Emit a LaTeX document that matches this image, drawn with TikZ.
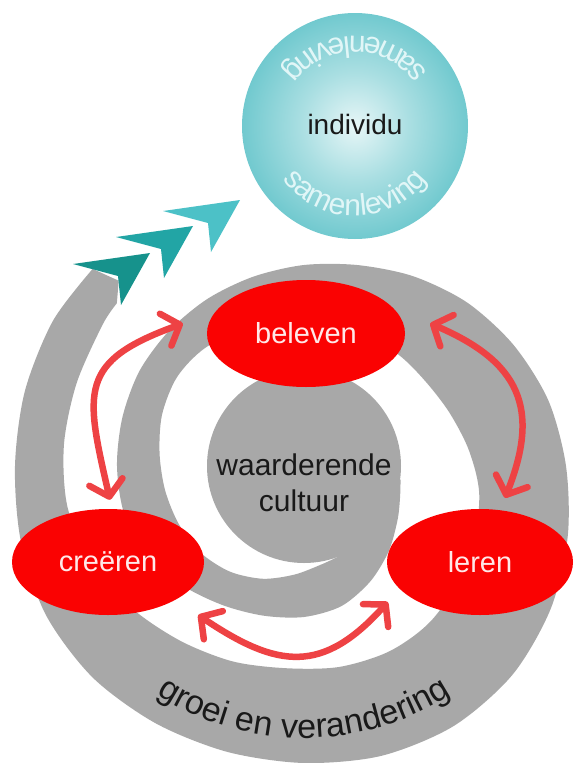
\documentclass[tikz,border=0pt]{standalone}
\usepackage{fontspec}
\setmainfont{Liberation Sans}
\usetikzlibrary{arrows.meta, shapes.geometric, decorations.text}

\definecolor{bandgray}{RGB}{168,168,168}
\definecolor{stagered}{RGB}{250,2,2}
\definecolor{stagetext}{RGB}{255,232,232}
\definecolor{linkred}{RGB}{238,66,68}
\definecolor{dartA}{RGB}{22,146,140}
\definecolor{dartB}{RGB}{34,165,165}
\definecolor{dartC}{RGB}{76,193,199}
\definecolor{glowedge}{RGB}{52,178,186}
\definecolor{glowtext}{RGB}{225,246,247}
\definecolor{inktext}{RGB}{25,25,25}

\pgfdeclareradialshading{tealglow}{\pgfpoint{0bp}{0bp}}{%
  color(0bp)=(white!88!glowedge); color(12bp)=(white!58!glowedge);
  color(26bp)=(white!28!glowedge); color(40bp)=(white!8!glowedge);
  color(50bp)=(glowedge)}

\begin{document}
\begin{tikzpicture}[
  x=1pt, y=-1pt,
  band/.style={fill=bandgray},
  stage/.style={ellipse, fill=stagered, inner sep=0pt, text=stagetext,
                font=\fontsize{29}{29}\selectfont},
  link/.style={draw=linkred, line width=6.5pt, line cap=round,
               >={Straight Barb[length=15pt, width=34pt, round]}, <->},
  ink/.style={text=inktext}
]
  \fill[white] (0,0) rectangle (574,763);
  \useasboundingbox (0,0) rectangle (574,763);

  % individu / samenleving
  \shade[shading=tealglow] (355,126) circle[radius=113];
  \node[ink, font=\fontsize{28}{28}\selectfont] (individu) at (355,124) {individu};
  \path[decorate, decoration={text along path, text align=center, text color=glowtext,
        text={|\fontsize{30}{30}\selectfont|samenleving}}]
    (355,126) ++(150:90) arc[start angle=150, end angle=30, radius=90];
  \path[decorate, decoration={text along path, text align=center, text color=glowtext,
        text={|\fontsize{30}{30}\selectfont|samenleving}}]
    (355,126) ++(-30:90) arc[start angle=-30, end angle=-150, radius=90];

  % spiral (polar around the disk centre)
  \fill[band, shift={(304,466)}] plot[smooth] coordinates {(583:289) (570:290)
      (555:289) (540:289) (525:293) (510:298) (495:299) (480:297) (465:296) (450:297)
      (435:300) (420:300) (405:295) (390:285) (375:273) (360:262) (345:253) (330:242)
      (315:231) (300:219) (285:208) (270:201) (255:196) (240:193) (225:191) (210:190)
      (195:188) (180:187) (165:186) (150:180) (135:170) (120:161) (105:155) (90:151)
      (75:145) (60:133) (45:120) (30:108) (18:101) (8:97.5)}
    -- plot[smooth] coordinates {(70:97) (80:100) (95:109) (110:120) (125:129)
      (140:135) (155:138) (170:141) (185:145) (200:151) (215:155) (230:154) (250:151)
      (270:149) (290:147) (310:146) (325:148) (340:155) (355:166) (370:178) (390:191)
      (410:200) (425:204) (440:204) (455:203) (470:208) (485:214) (500:223) (515:233)
      (530:240) (545:241) (560:242) (575:246) (581:248)}
    -- (585:262) -- cycle;
  \fill[band] (304,466) circle[radius=97];
  \node[ink, align=center, font=\fontsize{30}{36}\selectfont] (cultuur) at (304,483)
    {waarderende\\cultuur};
  \path[decorate, decoration={text along path, text align=center, text color=inktext,
        text={|\fontsize{34}{34}\selectfont|groei en verandering}}]
    (304,466) ++(150:272) arc[start angle=150, end angle=30, radius=272];

  % arrows to the circle
  \foreach \fx/\fy/\col in {150/253/dartA, 193/226/dartB, 240/200/dartC}
    \fill[\col, shift={(\fx,\fy)}] (0,0) -- (-77,11) -- (-32,23) -- (-29,52) -- cycle;

  % stages
  \node[stage, minimum width=198pt, minimum height=107pt] (beleven) at (306,333.5) {beleven};
  \node[stage, minimum width=192pt, minimum height=106pt] (creeren) at (108,562) {creëren};
  \node[stage, minimum width=186pt, minimum height=106pt] (leren) at (480,562) {leren};

  \draw[link] ([shift={(2,-9)}]creeren.north) .. controls +(-25,-109) and +(-105,38)
    .. ([shift={(-24,-10)}]beleven.west);
  \draw[link] ([shift={(25,-11)}]leren.north) .. controls +(36,-90) and +(89,38)
    .. ([shift={(25,-10)}]beleven.east);
  \draw[link] ([shift={(-6,53)}]creeren.east) .. controls +(80,54) and +(-65,72)
    .. ([shift={(1,40)}]leren.west);
\end{tikzpicture}
\end{document}
